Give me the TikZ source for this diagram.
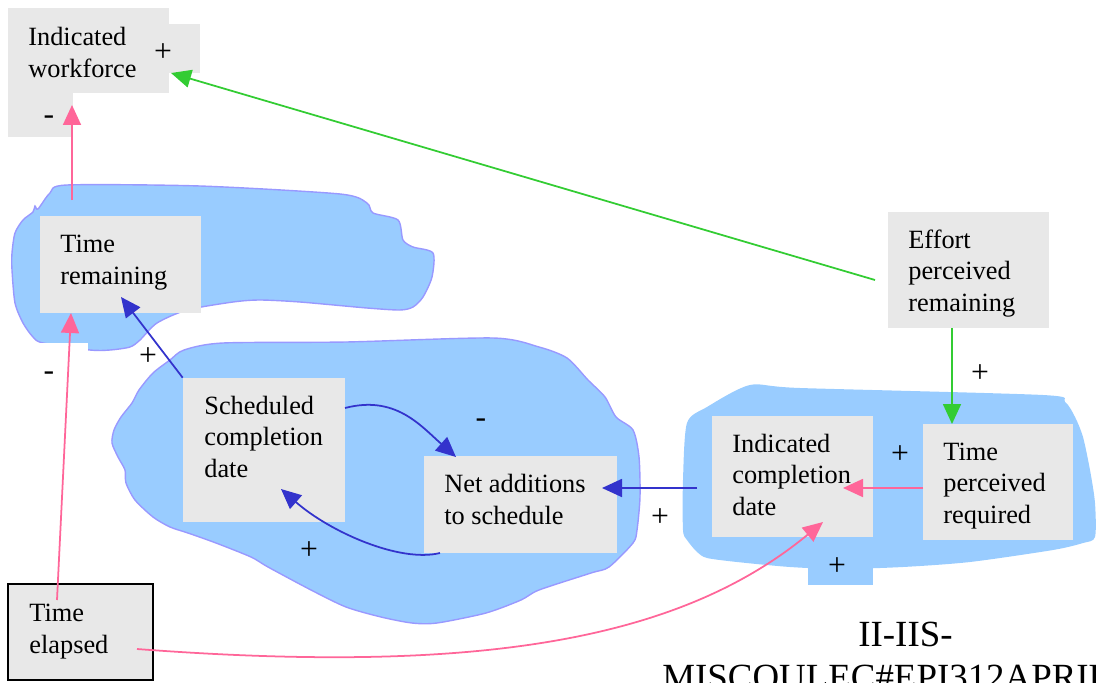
\documentclass[tikz,border=0pt]{standalone}
\usepackage{fontspec}
\setmainfont{Liberation Serif}
\usetikzlibrary{arrows.meta,fit}

\definecolor{blobfill}{HTML}{99CCFF}
\definecolor{blobline}{HTML}{9999FF}
\definecolor{boxgray}{HTML}{E8E8E8}
\definecolor{linkpink}{HTML}{FF6699}
\definecolor{linkgreen}{HTML}{33CC33}
\definecolor{linkblue}{HTML}{3333CC}

\begin{document}
\begin{tikzpicture}[x=0.02cm,y=-0.02cm,
  varbox/.style={fill=boxgray,draw=none,inner sep=0pt},
  % multi-line labels: the base anchor sits on the last line
  lbl/.style={font=\fontsize{15}{18}\selectfont,align=left,inner sep=0pt,anchor=base west},
  sign/.style={font=\fontsize{18}{20}\selectfont,inner sep=0pt},
  link/.style={line width=1pt,-{Triangle[length=0.4cm,width=0.36cm]}},
  blob/.style={fill=blobfill},
  code/.style={font=\fontsize{21}{26}\selectfont,inner sep=0pt,anchor=base west}]

\clip (0,0) rectangle (1096,683);

% ---- sector blobs ----
\path[blob,draw=blobline,line width=0.8pt] plot[smooth cycle,tension=0.45] coordinates {
  (50,193) (67,185) (200,186) (340,194) (367,203) (373,213) (398,220)
  (403,240) (413,247) (433,253) (432,277) (423,297) (413,307) (400,310)
  (367,308) (300,302) (260,300) (233,302) (187,310) (157,323) (140,340)
  (130,347) (110,350) (90,350) (43,343) (33,337) (23,323) (15,303)
  (12,270) (12,253) (15,233) (23,220) (33,212) (35,206) (38,209)};
\fill[white] (0,343) rectangle (88,400);

\path[blob,draw=blobline,line width=0.8pt] plot[smooth cycle,tension=0.45] coordinates {
  (184,350) (223,343) (346,342) (493,338) (539,347) (567,358) (588,380)
  (605,397) (616,417) (633,430) (639,457) (640,497) (637,530) (633,543)
  (609,567) (591,573) (539,590) (521,600) (486,613) (437,623) (412,623)
  (381,617) (346,607) (311,590) (268,567) (251,557) (216,543) (188,533)
  (170,527) (153,517) (135,500) (126,483) (125,470) (118,457) (112,443)
  (114,430) (121,417) (132,403) (139,390) (153,373) (170,360)};

\path[blob] plot[smooth cycle,tension=0.45] coordinates {
  (687,423) (707,407) (750,385) (800,388) (1043,395) (1065,402) (1075,417)
  (1083,437) (1090,470) (1095,503) (1095,537) (1083,543) (1053,550)
  (970,562) (903,567) (840,569) (790,567) (737,562) (707,558) (697,552)
  (687,540) (683,530) (683,480)};
\fill[blobfill] (808,555) rectangle (873,585);

% ---- variables ----
\node[varbox,fit={(8,8) (169,93)}] (iw) {};
\fill[boxgray] (168,24) rectangle (200,73);
\fill[boxgray] (8,92) rectangle (73,137);
\node[varbox,fit={(40,216) (201,313)}] (tr) {};
\node[varbox,fit={(183,378) (345,522)}] (scd) {};
\node[varbox,fit={(424,456) (617,553)}] (nas) {};
\node[varbox,fit={(712,416) (873,537)}] (icd) {};
\node[varbox,fit={(923,424) (1073,540)}] (tpr) {};
\node[varbox,fit={(888,212) (1049,328)}] (epr) {};
\node[varbox,draw=black,line width=1.1pt,fit={(8,584) (153,680)}] (te) {};

\node[lbl] (iw-t)  at (28,77)    {Indicated\\workforce};
\node[lbl] (tr-t)  at (60,284)   {Time\\remaining};
\node[lbl] (scd-t) at (204,477.5){Scheduled\\completion\\date};
\node[lbl] (nas-t) at (444,524)  {Net additions\\to schedule};
\node[lbl] (icd-t) at (732,515.5){Indicated\\completion\\date};
\node[lbl] (tpr-t) at (943,523.5){Time\\perceived\\required};
\node[lbl] (epr-t) at (908,311.5){Effort\\perceived\\remaining};
\node[lbl] (te-t)  at (29,653)   {Time\\elapsed};

% ---- connector end points ----
\coordinate (tr-up)   at (72,200);
\coordinate (iw-in1)  at (72,105);
\coordinate (epr-w)   at (875,280);
\coordinate (iw-in2)  at (171,73);
\coordinate (epr-s)   at (952,328);
\coordinate (tpr-n)   at (952,424);
\coordinate (tpr-w)   at (923,488);
\coordinate (icd-in1) at (843,488);
\coordinate (te-e)    at (137,649);
\coordinate (icd-in2) at (823,522);
\coordinate (te-n)    at (57,600);
\coordinate (tr-in1)  at (71,313);
\coordinate (tr-in2)  at (121,297);
\coordinate (scd-e)   at (345,408);
\coordinate (nas-in1) at (456,457);
\coordinate (nas-sw)  at (440,553);
\coordinate (scd-in)  at (281,489);
\coordinate (icd-w)   at (697,488);
\coordinate (nas-in2) at (602,488);

% ---- links ----
\draw[link,linkpink] (tr-up) -- (iw-in1);
\draw[link,linkgreen] (epr-w) -- (iw-in2);
\draw[link,linkgreen] (epr-s) -- (tpr-n);
\draw[link,linkpink] (tpr-w) -- (icd-in1);
\draw[link,linkpink] (te-e) .. controls (480,675) and (680,640) .. (icd-in2);
\draw[link,linkpink] (te-n) -- (tr-in1);
\draw[link,linkblue] (scd.north west) -- (tr-in2);
\draw[link,linkblue] (scd-e) .. controls (395,395) and (420,425) .. (nas-in1);
\draw[link,linkblue] (nas-sw) .. controls (400,563) and (330,532) .. (scd-in);
\draw[link,linkblue] (icd-w) -- (nas-in2);

% ---- polarity signs ----
\node[sign] (p1)  at (163,53)  {+};
\node[sign] (p2)  at (49,120)  {-};
\node[sign] (p3)  at (148,357) {+};
\node[sign] (p4)  at (49,376)  {-};
\node[sign] (p5)  at (481,423) {-};
\node[sign] (p6)  at (309,551) {+};
\node[sign] (p7)  at (660,518) {+};
\node[sign] (p8)  at (900,455) {+};
\node[sign] (p9)  at (980,374) {+};
\node[sign] (p10) at (837,567) {+};

% ---- reference code ----
\node[code] (ref1) at (858,646) {II-IIS-};
\node[code] (ref2) at (662,689) {MISCOULEC\#EPI312APRIL};
\end{tikzpicture}
\end{document}
